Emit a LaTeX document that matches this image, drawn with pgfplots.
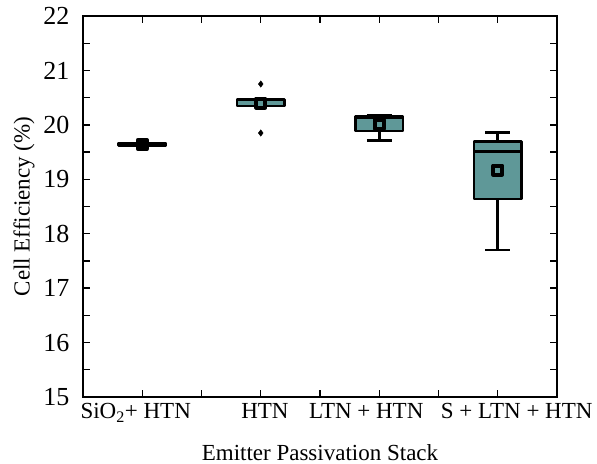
\documentclass[border=0pt]{standalone}
\usepackage{fontspec}
\setmainfont{Liberation Serif}
\usepackage{pgfplots}
\pgfplotsset{compat=1.18}
\definecolor{boxteal}{RGB}{95,152,152}

\begin{document}
\begin{tikzpicture}[font=\fontsize{23}{27}\selectfont]
\begin{axis}[
  scale only axis, width=474pt, height=381pt,
  xmin=0, xmax=8, ymin=15, ymax=22,
  ytick={15,...,22}, minor y tick num=1,
  xtick={1,...,7}, xticklabels={},
  extra x ticks={0.89,3.07,4.78,7.32},
  extra x tick labels={SiO\textsubscript{2}+ HTN, HTN, LTN + HTN, S + LTN + HTN},
  extra x tick style={major tick length=0pt},
  tick align=inside, major tick length=7pt, minor tick length=7pt,
  xticklabel style={font=\fontsize{23}{27}\selectfont, yshift=-3pt},
  yticklabel style={font=\fontsize{26}{30}\selectfont, xshift=-10pt},
  label style={font=\fontsize{23}{27}\selectfont},
  xlabel style={yshift=-15pt},
  ylabel shift=2pt,
  xlabel={Emitter Passivation Stack},
  ylabel={Cell Efficiency (\%)},
  axis line style={line width=1.3pt},
  tick style={line width=1.3pt, black},
  /pgf/number format/assume math mode=true,
  unbounded coords=jump,
  whisk/.style={draw=black, line width=2.6pt},
  bx/.style={draw=black, fill=boxteal, line width=2.6pt, line join=round},
  extra description/.code={\path (0,1) ++(-83pt,16pt); \path (1,0) ++(40pt,-66pt);},
]
% ---- SiO2 + HTN (x=1)
\addplot[bx] coordinates {(0.6,19.62) (1.4,19.62) (1.4,19.67) (0.6,19.67)} -- cycle;
\addplot[whisk] coordinates {(0.6,19.65) (1.4,19.65)};
% ---- HTN (x=3)
\addplot[bx] coordinates {(2.6,20.35) (3.4,20.35) (3.4,20.47) (2.6,20.47)} -- cycle;
\addplot[whisk] coordinates {(2.6,20.46) (3.4,20.46)};
\addplot[only marks, mark=diamond*, mark size=3.2pt, mark options={fill=black, draw=black}]
  coordinates {(3,20.75) (3,19.85)};
% ---- LTN + HTN (x=5)
\addplot[whisk] coordinates {(5,19.89) (5,19.71) (nan,nan) (4.79,19.71) (5.21,19.71)
  (nan,nan) (5,20.15) (5,20.17) (nan,nan) (4.79,20.17) (5.21,20.17)};
\addplot[bx] coordinates {(4.6,19.89) (5.4,19.89) (5.4,20.15) (4.6,20.15)} -- cycle;
\addplot[whisk] coordinates {(4.6,20.13) (5.4,20.13)};
% ---- S + LTN + HTN (x=7)
\addplot[whisk] coordinates {(7,18.64) (7,17.70) (nan,nan) (6.79,17.70) (7.21,17.70)
  (nan,nan) (7,19.69) (7,19.86) (nan,nan) (6.79,19.86) (7.21,19.86)};
\addplot[bx] coordinates {(6.6,18.64) (7.4,18.64) (7.4,19.69) (6.6,19.69)} -- cycle;
\addplot[whisk] coordinates {(6.6,19.51) (7.4,19.51)};
% ---- means
\addplot[only marks, mark=square*, mark size=4.5pt,
  mark options={fill=boxteal, draw=black, line width=4pt, line join=round}]
  coordinates {(3,20.40) (5,20.01) (7,19.17)};
\addplot[only marks, mark=square*, mark size=4.5pt,
  mark options={fill=black, draw=black, line width=4pt, line join=round}]
  coordinates {(1,19.64)};
\end{axis}
\end{tikzpicture}
\end{document}
